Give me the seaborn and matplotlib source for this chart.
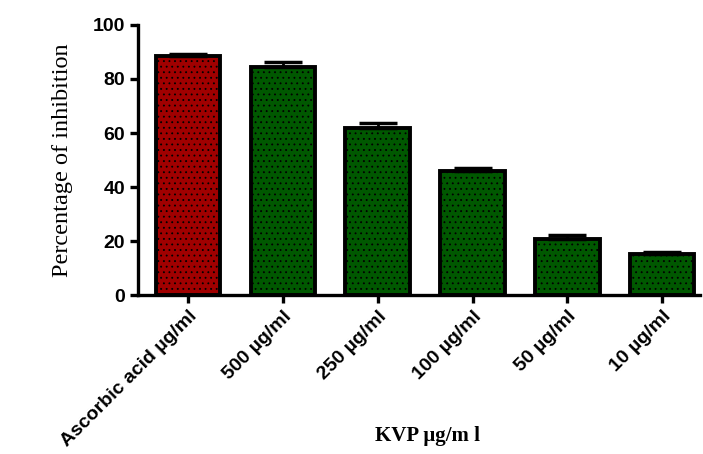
import matplotlib
matplotlib.use("Agg")
import matplotlib.pyplot as plt
import pandas as pd
import seaborn as sns

categories = ["Ascorbic acid \u00b5g/ml", "500 \u00b5g/ml", "250 \u00b5g/ml",
              "100 \u00b5g/ml", "50 \u00b5g/ml", "10 \u00b5g/ml"]
inhibition = [88.5, 84.3, 61.8, 46.0, 20.9, 15.1]
sem = [0.9, 2.0, 1.8, 1.2, 1.4, 0.7]
bar_colors = ["#a00000", "#005800", "#005800", "#005800", "#005800", "#005800"]

df = pd.DataFrame({"group": categories, "value": inhibition})

sns.set_style("ticks")
plt.rcParams["hatch.color"] = "#1a1a1a"
plt.rcParams["hatch.linewidth"] = 0.6
plt.rcParams["axes.edgecolor"] = "black"
plt.rcParams["xtick.color"] = "black"
plt.rcParams["ytick.color"] = "black"

fig = plt.figure(figsize=(7.03, 4.54), dpi=100)
ax = fig.add_axes([0.196, 0.35, 0.80, 0.595])

sns.barplot(data=df, x="group", y="value", hue="group", palette=bar_colors,
            saturation=1, width=0.68, legend=False, ax=ax, edgecolor="black",
            linewidth=2.8, errorbar=None)
for p in ax.patches:
    p.set_hatch("...")

xs = range(len(categories))
ax.errorbar(xs, inhibition, yerr=[[0] * len(sem), sem], fmt="none",
            ecolor="black", elinewidth=2, capsize=14, capthick=2.5, zorder=3)

ax.set_ylim(0, 100)
ax.set_xlim(-0.53, 5.4)
ax.set_yticks([0, 20, 40, 60, 80, 100])
ax.set_xticks(list(xs))
ax.set_xticklabels(categories, rotation=45, ha="right", rotation_mode="anchor",
                   fontfamily="Liberation Sans", fontweight="bold", fontsize=14,
                   color="black")
for lab in ax.get_yticklabels():
    lab.set_fontfamily("Liberation Sans")
    lab.set_fontweight("bold")
    lab.set_fontsize(14)
    lab.set_color("black")

ax.set_ylabel("Percentage of inhibition", fontfamily="Liberation Serif",
              fontsize=17.5, labelpad=14, color="black")
ax.set_xlabel("KVP \u00b5g/m l", fontfamily="Liberation Serif",
              fontweight="bold", fontsize=15, color="black")
ax.xaxis.set_label_coords(0.515, -0.485)

for s in ["left", "bottom"]:
    ax.spines[s].set_linewidth(2.4)
sns.despine(ax=ax)
ax.tick_params(axis="both", width=2.4, length=6, pad=3)

fig.savefig("out.png", dpi=100)
